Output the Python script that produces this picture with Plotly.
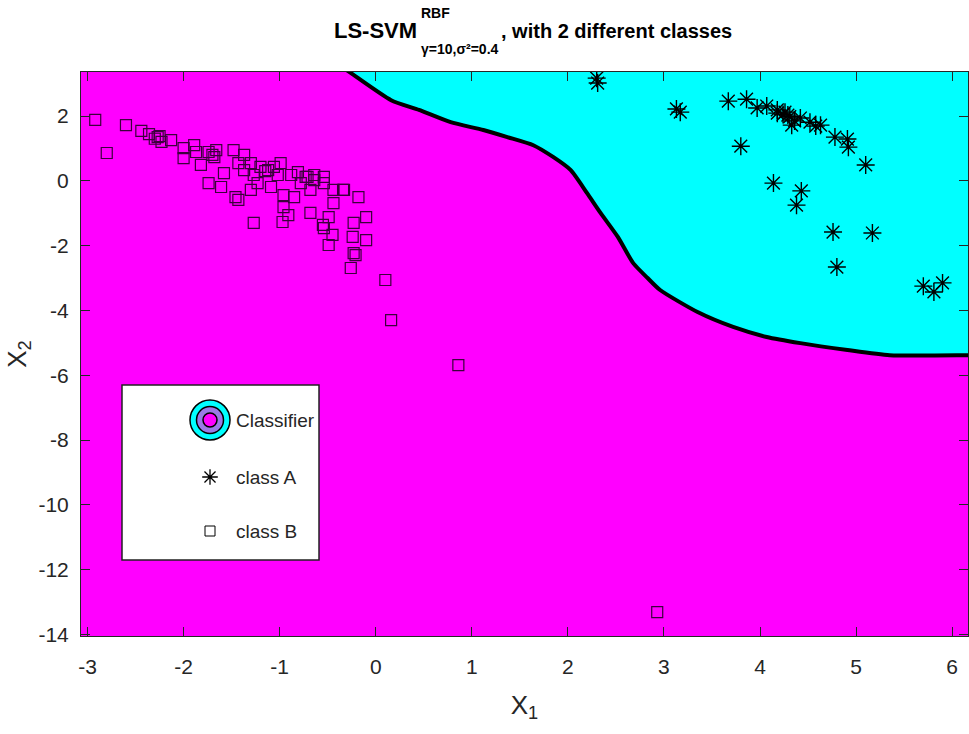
import plotly.graph_objects as go

# ---- class A samples (asterisks) ----
class_a_x = [2.30, 2.31, 3.13, 3.17, 3.67, 3.86, 3.97, 4.07, 4.18, 4.18, 4.26, 4.29, 4.33,
             4.42, 4.52, 4.58, 4.63, 4.78, 4.91, 4.92, 5.10, 3.80, 4.14, 4.43, 4.38,
             4.76, 5.17, 4.80, 5.70, 5.81, 5.90, 4.24, 4.31, 4.36]
class_a_y = [3.17, 3.02, 2.22, 2.12, 2.46, 2.52, 2.25, 2.31, 2.19, 2.09, 2.12, 2.03, 1.72,
             1.94, 1.81, 1.69, 1.72, 1.35, 1.29, 1.04, 0.49, 1.07, -0.07, -0.31, -0.75,
             -1.58, -1.61, -2.66, -3.25, -3.43, -3.15, 2.05, 1.98, 1.85]

# ---- class B samples (squares) ----
class_b_x = [-2.92, -2.80, -2.60, -2.44, -2.36, -2.27, -2.23, -2.13, -2.00, -1.89, -1.87,
             -2.00, -1.82, -1.74, -1.68, -1.66, -1.58, -1.74, -1.61, -1.48, -1.43, -1.37,
             -1.37, -1.30, -1.27, -1.20, -1.23, -1.12, -1.06, -1.02, -0.99, -1.09, -1.30,
             -1.46, -1.43, -0.96, -0.88, -0.81, -0.78, -0.71, -0.68, -0.64, -0.54, -0.54,
             -0.44, -0.33, -0.18, -0.44, -0.68, -0.85, -0.96, -0.91, -0.97, -1.27, -0.55,
             -0.54, -0.45, -0.49, -0.49, -0.23, -0.10, -0.24, -0.10, -0.23, -0.73, -0.64,
             -0.34, -0.21, -0.26, 0.10, 0.16, 0.86, 2.93, -2.30, -2.25, -1.70, -1.15]
class_b_y = [1.88, 0.86, 1.72, 1.54, 1.44, 1.35, 1.20, 1.26, 1.01, 1.10, 0.89,
             0.70, 0.49, 0.89, 0.73, 0.95, 0.24, -0.07, -0.19, 0.95, 0.55, 0.80,
             0.33, 0.55, 0.18, 0.43, -0.07, 0.33, 0.43, 0.18, 0.55, -0.19, -0.28,
             -0.50, -0.59, -0.44, 0.18, 0.27, -0.07, 0.12, -0.28, 0.18, 0.12, -0.07,
             -0.28, -0.28, -0.50, -0.69, -0.99, -0.50, -0.81, -1.06, -1.27, -1.30, -1.36,
             -1.46, -1.67, -1.98, -1.12, -1.30, -1.12, -1.73, -1.83, -2.23, 0.12, 0.02,
             -0.28, -2.29, -2.69, -3.06, -4.30, -5.69, -13.31, 1.30, 1.38, 0.80, 0.30]

# ---- LS-SVM decision boundary (class A side lies above / right) ----
boundary_x = [-0.45, -0.26, 0.16, 0.45, 0.78, 1.12, 1.37, 1.64, 1.85, 2.03, 2.20, 2.34,
              2.52, 2.68, 2.83, 2.96, 3.35, 3.72, 4.07, 4.42, 4.91, 5.35, 6.30, 7.50]
boundary_y = [3.72, 3.33, 2.49, 2.19, 1.81, 1.57, 1.35, 1.10, 0.73, 0.33, -0.38, -0.99,
              -1.73, -2.54, -3.00, -3.37, -4.05, -4.51, -4.82, -5.01, -5.22, -5.38, -5.38,
              -5.38]

x_ticks = [-3, -2, -1, 0, 1, 2, 3, 4, 5, 6]
y_ticks = [-14, -12, -10, -8, -6, -4, -2, 0, 2]
x_range = [-3.068, 6.165]
y_range = [-14.05, 3.36]

MAGENTA = "#FF00FF"
CYAN = "#00FFFF"
LAVENDER = "#9A7BE6"
FONT = "Liberation Sans, Arial, sans-serif"
TXT = "#262626"

W, H = 969, 734
L, R, T, B = 81, 968, 72, 636


def px(xp):
    return (xp - L) / (R - L)


def py(yp):
    return (B - yp) / (B - T)


def tick_text(vals):
    # plain hyphen for negative numbers
    return [str(v) for v in vals]


fig = go.Figure()

# class A region: area enclosed by the boundary and the top/right limits
top = y_range[1] + 1.2
fig.add_trace(go.Scatter(
    x=boundary_x + [boundary_x[-1], boundary_x[0]],
    y=boundary_y + [top, top],
    fill="toself", fillcolor=CYAN, mode="lines",
    line=dict(width=0, shape="spline", smoothing=0.6),
    hoverinfo="skip", showlegend=False))

fig.add_trace(go.Scatter(
    x=boundary_x, y=boundary_y, mode="lines",
    line=dict(color="black", width=4, shape="spline", smoothing=0.6),
    hoverinfo="skip", showlegend=False))

fig.add_trace(go.Scatter(
    x=class_b_x, y=class_b_y, mode="markers", name="class B",
    marker=dict(symbol="square-open", size=11, color="#3c003c",
                line=dict(width=1.2)),
    showlegend=False))

fig.add_trace(go.Scatter(
    x=class_a_x, y=class_a_y, mode="markers", name="class A",
    marker=dict(symbol="asterisk-open", size=15, color="black",
                line=dict(width=1.4, color="black")),
    showlegend=False))

# legend icons on an overlay axis spanning the plot area
leg_x = px(210)
icon_y = [py(420), py(477), py(531)]
for size, col in [(40, CYAN), (27, LAVENDER), (14, MAGENTA)]:
    fig.add_trace(go.Scatter(
        x=[leg_x], y=[icon_y[0]], xaxis="x2", yaxis="y2", mode="markers",
        marker=dict(symbol="circle", size=size, color=col,
                    line=dict(color="black", width=1.5)),
        hoverinfo="skip", showlegend=False))
fig.add_trace(go.Scatter(
    x=[leg_x], y=[icon_y[1]], xaxis="x2", yaxis="y2", mode="markers",
    marker=dict(symbol="asterisk-open", size=13, color="black",
                line=dict(width=1.3, color="black")),
    hoverinfo="skip", showlegend=False))
fig.add_trace(go.Scatter(
    x=[leg_x], y=[icon_y[2]], xaxis="x2", yaxis="y2", mode="markers",
    marker=dict(symbol="square-open", size=10, color="black", line=dict(width=1)),
    hoverinfo="skip", showlegend=False))

shapes = [dict(type="rect", xref="paper", yref="paper",
               x0=px(122), x1=px(319), y0=py(560), y1=py(385),
               fillcolor="white", line=dict(color="#222222", width=1.5),
               layer="below")]

annotations = []
for label, yv in zip(["Classifier", "class A", "class B"], icon_y):
    annotations.append(dict(x=px(234), y=yv, xref="paper", yref="paper",
                            text=label, showarrow=False, xanchor="left",
                            yanchor="middle", font=dict(family=FONT, size=19, color=TXT)))

# title pieces
title_font = dict(family=FONT, size=20, color="black")
annotations += [
    dict(x=px(419), y=py(31), xref="paper", yref="paper", text="<b>LS-SVM</b>",
         showarrow=False, xanchor="right", yanchor="middle",
         font=dict(family=FONT, size=22, color="black")),
    dict(x=px(419), y=py(13), xref="paper", yref="paper", text="<b>RBF</b>",
         showarrow=False, xanchor="left", yanchor="middle",
         font=dict(family=FONT, size=14, color="black")),
    dict(x=px(419), y=py(49), xref="paper", yref="paper",
         text="<b>\u03b3=10,\u03c3\u00b2=0.4</b>",
         showarrow=False, xanchor="left", yanchor="middle",
         font=dict(family=FONT, size=14, color="black")),
    dict(x=px(499), y=py(31), xref="paper", yref="paper",
         text="<b>, with 2 different classes</b>",
         showarrow=False, xanchor="left", yanchor="middle", font=title_font),
]

axis_common = dict(showline=True, linecolor=TXT, linewidth=1, mirror="ticks",
                   ticks="inside", ticklen=9, tickcolor=TXT, showgrid=False,
                   zeroline=False, tickfont=dict(family=FONT, size=21, color=TXT))

fig.update_layout(
    width=W, height=H,
    margin=dict(l=L, r=W - R, t=T, b=H - B),
    paper_bgcolor="white", plot_bgcolor=MAGENTA,
    xaxis=dict(range=x_range, tickvals=x_ticks, ticktext=tick_text(x_ticks),
               ticklabelstandoff=12, **axis_common,
               title=dict(text="X<sub>1</sub>", font=dict(family=FONT, size=26, color=TXT),
                          standoff=18)),
    yaxis=dict(range=y_range, tickvals=y_ticks, ticktext=tick_text(y_ticks),
               ticklabelstandoff=7, **axis_common,
               title=dict(text="X<sub>2</sub>", font=dict(family=FONT, size=26, color=TXT),
                          standoff=4)),
    xaxis2=dict(range=[0, 1], overlaying="x", visible=False),
    yaxis2=dict(range=[0, 1], overlaying="y", visible=False),
    shapes=shapes, annotations=annotations, showlegend=False,
)

fig.write_html("out.html")
